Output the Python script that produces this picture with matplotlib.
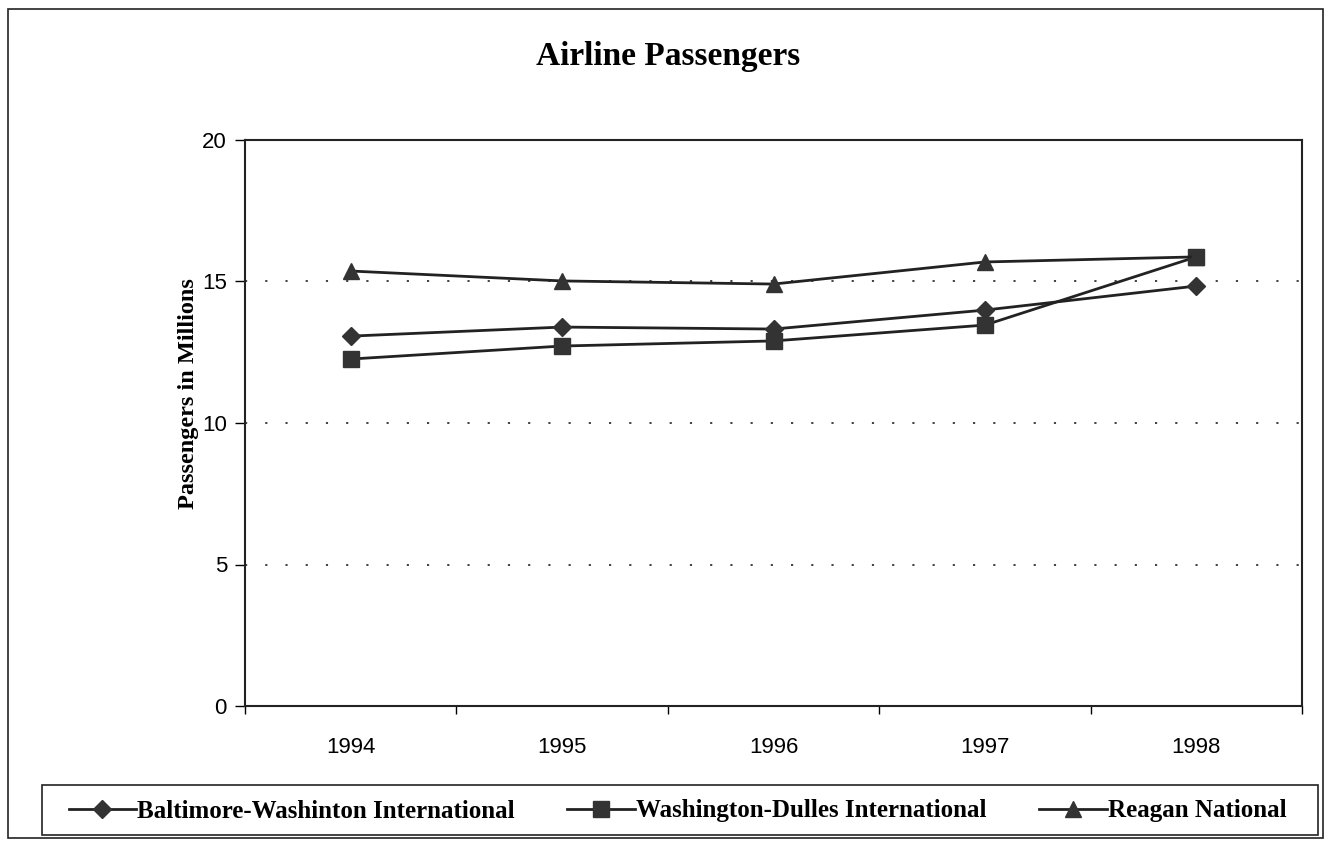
import matplotlib
matplotlib.use("Agg")
import matplotlib.pyplot as plt
from matplotlib.patches import Rectangle

years = ["1994", "1995", "1996", "1997", "1998"]
bwi = [13.07, 13.39, 13.32, 13.99, 14.84]
dulles = [12.26, 12.72, 12.90, 13.46, 15.87]
reagan = [15.37, 15.02, 14.91, 15.69, 15.87]
series_names = ["Baltimore-Washinton International", "Washington-Dulles International", "Reagan National"]
yticks = [0, 5, 10, 15, 20]

serif = ["Liberation Serif", "DejaVu Serif"]
sans = ["Liberation Sans", "DejaVu Sans"]

fig = plt.figure(figsize=(13.24, 8.41), dpi=100)
fig.patch.set_facecolor("white")
# outer border
fig.patches.append(Rectangle((8/1324, 3/841), (1323-8)/1324, (832-3)/841,
                             transform=fig.transFigure, fill=False, edgecolor="#222222", lw=1.2))
# legend box
fig.patches.append(Rectangle((42/1324, 1-835/841), (1318-42)/1324, 50/841,
                             transform=fig.transFigure, fill=False, edgecolor="#222222", lw=1.2))

ax = fig.add_axes([245/1324, 1-706/841, (1302-245)/1324, (706-140)/841])
x = list(range(len(years)))
lc = "#222222"
mc = "#333333"
ax.plot(x, bwi, color=lc, lw=2, marker="D", markersize=9.5, markerfacecolor=mc, markeredgecolor=mc, label=series_names[0])
ax.plot(x, dulles, color=lc, lw=2, marker="s", markersize=11.5, markerfacecolor=mc, markeredgecolor=mc, label=series_names[1])
ax.plot(x, reagan, color=lc, lw=2, marker="^", markersize=12, markerfacecolor=mc, markeredgecolor=mc, label=series_names[2])

ax.set_xlim(-0.5, len(years) - 0.5)
ax.set_ylim(0, 20)
ax.set_yticks(yticks)
ax.set_yticklabels([str(v) for v in yticks], fontfamily=sans, fontsize=16)
ax.set_xticks(x)
ax.set_xticklabels(years, fontfamily=sans, fontsize=16)
ax.set_xticks([i + 0.5 for i in range(-1, len(years))], minor=True)
ax.tick_params(axis="x", which="major", length=0, pad=22)
ax.tick_params(axis="x", which="minor", length=6, direction="out", width=1)
ax.tick_params(axis="y", length=7, direction="out", width=1, pad=6)
for v in yticks[1:-1]:
    ax.axhline(v, color="#333333", lw=1.3, ls=(0, (1.2, 10)), zorder=0)
for s in ax.spines.values():
    s.set_color("#222222")
    s.set_linewidth(1.5)

ax.set_ylabel("Passengers in Millions", fontfamily=serif, fontweight="bold", fontsize=17.5, labelpad=2)
ax.yaxis.label.set_y((706 - 394) / 566)
fig.text(0.505, 1-57/841, "Airline Passengers", ha="center", va="center",
         fontfamily=serif, fontweight="bold", fontsize=24)

leg = fig.legend(loc="center", bbox_to_anchor=(677.5/1324, 1-811/841),
                 ncol=3, frameon=False,
                 prop={"family": serif, "weight": "bold", "size": 18}, handlelength=2.7,
                 handletextpad=0.05, columnspacing=2.1, borderaxespad=0, borderpad=0)

fig.savefig("out.png", dpi=100, facecolor="white")
